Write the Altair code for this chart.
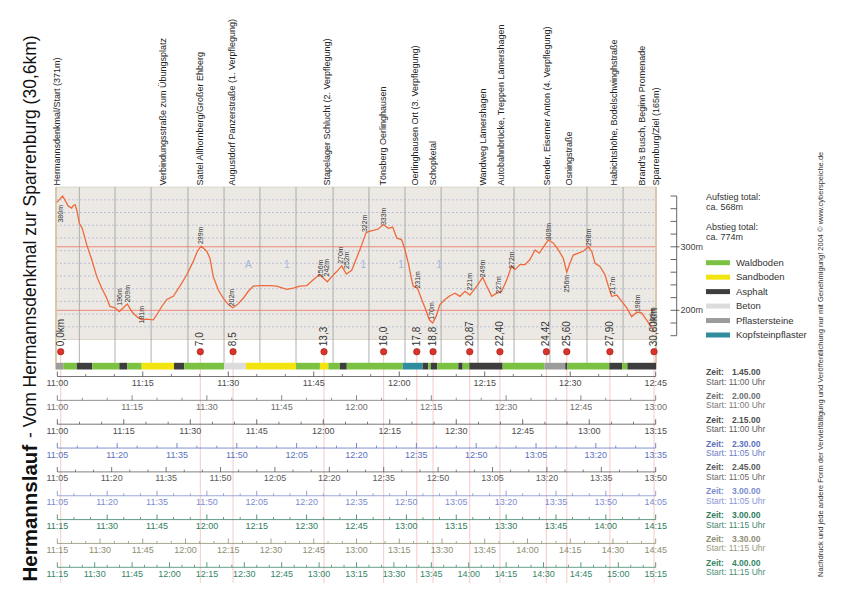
import altair as alt
import pandas as pd

# ---------------- data ----------------
WAYPOINTS = [
    "Hermannsdenkmal/Start (371m)", "Verbindungsstraße zum Übungsplatz",
    "Sattel Allhornberg/Großer Ehberg", "Augustdorf Panzerstraße (1. Verpflegung)",
    "Stapelager Schlucht (2. Verpflegung)", "Tönsberg Oerlinghausen",
    "Oerlinghausen Ort (3. Verpflegung)", "Schopketal", "Wandweg Lämershagen",
    "Autobahnbrücke, Treppen  Lämershagen", "Sender, Eiserner Anton (4. Verpflegung)",
    "Osningstraße", "Habichtshöhe, Bodelschwinghstraße",
    "Brand's Busch, Beginn Promenade", "Sparrenburg/Ziel (165m)",
]
WAYPOINT_KM = [0.04, 5.47, 7.34, 8.96, 13.84, 16.69, 18.31, 19.24, 21.79, 22.68,
               25.06, 26.18, 28.46, 29.87, 30.60]

PROFILE_KM = [0.04, 0.34, 0.63, 0.80, 0.88, 0.98, 1.06, 1.19, 1.34, 1.57, 1.82, 2.08, 2.33,
              2.59, 2.75, 3.01, 3.23, 3.43, 3.64, 3.86, 4.12, 4.37, 4.63, 4.96, 5.14, 5.39,
              5.65, 5.98, 6.32, 6.67, 7.00, 7.21, 7.40, 7.69, 7.85, 8.02, 8.28, 8.53, 8.79,
              9.01, 9.25, 9.55, 9.81, 10.06, 10.40, 10.91, 11.26, 11.77, 12.10, 12.44, 12.79,
              13.12, 13.43, 13.63, 13.84, 14.06, 14.32, 14.57, 14.81, 15.08, 15.34, 15.59,
              15.81, 15.93, 16.18, 16.44, 16.69, 16.95, 17.17, 17.38, 17.63, 17.80, 17.97,
              18.14, 18.22, 18.43, 18.65, 18.82, 19.04, 19.21, 19.38, 19.58, 19.84, 20.09,
              20.35, 20.60, 20.86, 21.11, 21.46, 21.76, 21.97, 22.22, 22.48, 22.73, 22.99,
              23.24, 23.41, 23.66, 23.92, 24.17, 24.43, 24.65, 24.89, 25.11, 25.36, 25.62,
              25.87, 26.05, 26.21, 26.38, 26.64, 26.89, 27.15, 27.32, 27.49, 27.74, 28.00,
              28.17, 28.34, 28.60, 28.85, 29.11, 29.36, 29.62, 29.87, 30.04, 30.29, 30.50]
PROFILE_ELEV = [370, 380, 364, 361, 365, 366, 358, 337, 329, 303, 280, 253, 235,
                219, 206, 204, 198, 204, 210, 198, 190, 185, 186, 185, 193, 206,
                217, 222, 238, 256, 277, 293, 301, 293, 282, 253, 232, 219, 209,
                204, 209, 219, 230, 238, 239, 239, 238, 233, 235, 238, 239,
                248, 256, 251, 245, 253, 261, 270, 257, 263, 283, 303,
                322, 324, 326, 328, 335, 329, 331, 314, 311, 295, 274,
                248, 238, 235, 217, 204, 185, 180, 190, 209, 217, 223,
                227, 222, 230, 224, 238, 252, 238, 222, 227, 230, 248,
                270, 264, 272, 272, 280, 295, 290, 301, 311, 306, 295,
                282, 260, 274, 287, 290, 293, 300, 293, 274, 269, 256,
                238, 222, 224, 214, 204, 190, 197, 196, 188, 177, 167]

ELEV_LABELS = ["380m", "196m", "209m", "181m", "299m", "202m", "256m", "242m", "270m",
               "252m", "322m", "333m", "231m", "170m", "221m", "249m", "227m", "272m",
               "309m", "256m", "298m", "217m", "198m", "165m"]
ELEV_LABEL_KM = [0.28, 3.24, 3.65, 4.41, 7.38, 9.00, 13.49, 13.82, 14.51, 14.82, 15.77,
                 16.71, 18.44, 19.20, 21.11, 21.76, 22.58, 23.24, 25.13, 26.05, 27.20,
                 28.39, 29.67, 30.46]
ELEV_LABEL_AT = [352, 221, 226, 193, 318, 220, 266, 267, 287, 279, 337, 348, 248, 199,
                 245, 266, 240, 279, 324, 242, 315, 239, 211, 191]

KM_LABELS = ["0,0km", "7,0", "8,5", "13,3", "16,0", "17,8", "18,8", "20,87", "22,40",
             "24,42", "25,60", "27,90", "30,60km"]
KM_POS = [0.24, 7.36, 9.03, 13.67, 16.71, 18.40, 19.23, 21.10, 22.64, 25.01, 26.05,
          28.25, 30.50]

GRID_KM = [1.19, 3.01, 4.85, 6.73, 8.57, 10.40, 12.24, 14.13, 15.96, 17.80, 19.64,
           21.52, 23.36, 25.19, 27.08, 28.92]

ROAD_TEXT = ["A", "1", "1", "1", "1"]
ROAD_KM = [9.81, 11.77, 15.67, 17.60, 19.53]
ROAD_AT = 271

SURFACES = ["Waldboden", "Sandboden", "Asphalt", "Beton", "Pflastersteine",
            "Kopfsteinpflaster"]
SURF_FROM = [0.00, 0.37, 1.06, 1.85, 3.23, 3.64, 4.37, 6.02, 6.54, 8.57, 9.69, 12.24,
             13.46, 13.89, 14.48, 14.83, 17.68, 18.70, 18.99, 19.11, 19.45, 20.52,
             20.74, 21.08, 22.78, 24.92, 25.97, 26.08, 28.22, 28.87, 29.14]
SURF_TO = SURF_FROM[1:] + [30.60]
SURF_KIND = ["Pflastersteine", "Waldboden", "Asphalt", "Waldboden", "Asphalt",
             "Waldboden", "Sandboden", "Asphalt", "Waldboden", "Beton", "Sandboden",
             "Waldboden", "Sandboden", "Waldboden", "Asphalt", "Waldboden",
             "Kopfsteinpflaster", "Asphalt", "Waldboden", "Asphalt", "Waldboden",
             "Asphalt", "Waldboden", "Asphalt", "Waldboden", "Pflastersteine",
             "Asphalt", "Waldboden", "Asphalt", "Waldboden", "Asphalt"]

STATS = ["Aufstieg total:", "ca. 568m", "Abstieg total:", "ca. 774m"]
STATS_LINE = [0, 1, 3, 4]

TIME_START = ["11:00", "11:00", "11:00", "11:05", "11:05", "11:05", "11:15", "11:15", "11:15"]
TIME_END = ["12:45", "13:00", "13:15", "13:35", "13:50", "14:05", "14:15", "14:45", "15:15"]
RACE_TIME = ["1.45.00", "2.00.00", "2.15.00", "2.30.00", "2.45.00", "3.00.00",
             "3.00.00", "3.30.00", "4.00.00"]

ELEV_TICKS = list(range(160, 381, 20))
ELEV_TICK_LABELS = {300: "300m", 200: "200m"}

TITLE_BOLD = "Hermannslauf"
TITLE_REST = "- Vom Hermannsdenkmal zur Sparrenburg (30,6km)"
COPYRIGHT = ("Nachdruck und jede andere Form der Vervielfältigung und Veröffentlichung "
             "nur mit Genehmigung! 2004 © www.cyberspeiche.de")

# ---------------- styles / layout ----------------
FONT = "Liberation Sans"
W, H = 826, 575
SURF_COLORS = ["#7cc242", "#f1e40f", "#3d3d3d", "#dcdcdc", "#9c9c9c", "#2f8d9d"]
ROW_IDS = [f"r{i}" for i in range(len(TIME_START))]
ROW_COLORS = ["#4d4d4d", "#6e6e6e", "#4d4d4d", "#5b70bd", "#5a5a5a", "#7b8cd0",
              "#2f7b5b", "#8d8d72", "#358565"]


def PX(x):
    return x - 8


def PY(y):
    return y - 8


PX_PER_M = 0.635
Y300 = 246.8


def page_y(e):
    return Y300 - (e - 300) * PX_PER_M


def elev_at(py):
    return 300 - (py - Y300) / PX_PER_M


GREY_LO, GREY_HI = 154, 394
MARK_Y = elev_at(351.7)
BAR_TOP, BAR_BOT = elev_at(362.8), elev_at(369.5)
PINK_BOT = elev_at(583)

XKM = alt.Scale(domain=[0, 30.6], range=[PX(56), PX(656)], nice=False, zero=False)
YEL = alt.Scale(domain=[160, 380], range=[PY(page_y(160)), PY(page_y(380))], nice=False, zero=False)
XT = alt.Scale(domain=[0, 1], range=[PX(57.3), PX(655.7)], nice=False, zero=False)
YROW = alt.Scale(domain=[0, 8], range=[PY(376.5), PY(567.3)], nice=False, zero=False)
YLEG = alt.Scale(domain=[0, 5], range=[PY(262.7), PY(335)], nice=False, zero=False)
YSTAT = alt.Scale(domain=[0, 4], range=[PY(196.7), PY(236.7)], nice=False, zero=False)
SURF_SCALE = alt.Scale(domain=SURFACES, range=SURF_COLORS)
ROW_SCALE = alt.Scale(domain=ROW_IDS, range=ROW_COLORS)


def xk(f):
    return alt.X(f, type="quantitative", scale=XKM, axis=None)


def ye(f):
    return alt.Y(f, type="quantitative", scale=YEL, axis=None)


def xkd(v):
    return alt.XDatum(v, type="quantitative", scale=XKM, axis=None)


def yed(v):
    return alt.YDatum(v, type="quantitative", scale=YEL, axis=None)


one = pd.DataFrame({"k": [0]})

# ---------------- tables ----------------
profile = pd.DataFrame({"km": PROFILE_KM, "elev": PROFILE_ELEV})
elev_lab = pd.DataFrame({"km": ELEV_LABEL_KM, "elev": ELEV_LABEL_AT, "t": ELEV_LABELS})
wp = pd.DataFrame({"km": WAYPOINT_KM, "t": WAYPOINTS})
kmm = pd.DataFrame({"km": KM_POS, "t": KM_LABELS})
grid_v = pd.DataFrame({"km": GRID_KM})
grid_h = pd.DataFrame({"elev": list(range(GREY_LO + 20, GREY_HI, 20))})
red_h = pd.DataFrame({"elev": [200, 300]})
frame = pd.DataFrame({"km": [0, 30.6]})
road = pd.DataFrame({"km": ROAD_KM, "t": ROAD_TEXT})
surf = pd.DataFrame({"a": SURF_FROM, "b": SURF_TO, "kind": SURF_KIND})
leg = pd.DataFrame({"kind": SURFACES, "i": list(range(len(SURFACES)))})
stats = pd.DataFrame({"t": STATS, "i": STATS_LINE})
ax_ticks = pd.DataFrame({"elev": ELEV_TICKS,
                         "major": [e in ELEV_TICK_LABELS for e in ELEV_TICKS]})
ax_labels = pd.DataFrame({"elev": list(ELEV_TICK_LABELS.keys()),
                          "t": list(ELEV_TICK_LABELS.values())})


def to_min(s):
    h, m = s.split(":")
    return int(h) * 60 + int(m)


tick_rows = []
for i, (s, e) in enumerate(zip(TIME_START, TIME_END)):
    sm, em = to_min(s), to_min(e)
    for t in range(sm, em + 1, 5):
        tick_rows.append({"row": ROW_IDS[i], "ri": i, "frac": (t - sm) / (em - sm),
                          "major": (t - sm) % 15 == 0, "t": f"{t // 60}:{t % 60:02d}"})
ticks = pd.DataFrame(tick_rows)
rows = pd.DataFrame({"row": ROW_IDS, "ri": list(range(len(ROW_IDS))),
                     "zeit": RACE_TIME,
                     "start": [f"Start: {s} Uhr" for s in TIME_START]})

yrow = alt.Y("ri:Q", scale=YROW, axis=None)
crow = alt.Color("row:N", scale=ROW_SCALE, legend=None)
xt = alt.X("frac:Q", scale=XT, axis=None)

# ---------------- layers ----------------
layers = []

layers.append(alt.Chart(one).mark_rect(fill="#ecE9e4", stroke="#d8d0c0", strokeWidth=0.8).encode(
    x=xkd(0), x2=alt.X2Datum(30.6), y=yed(GREY_LO), y2=alt.Y2Datum(GREY_HI)))

layers.append(alt.Chart(grid_h).mark_rule(color="#a6aed0", strokeDash=[2, 2], strokeWidth=0.7).encode(
    y=ye("elev"), x=xkd(0), x2=alt.X2Datum(30.6)))

layers.append(alt.Chart(red_h).mark_rule(color="#ef7b66", strokeWidth=0.9).encode(
    y=ye("elev"), x=xkd(0), x2=alt.X2Datum(30.6)))

layers.append(alt.Chart(grid_v).mark_rule(color="#9c9c9c", strokeWidth=0.8).encode(
    x=xk("km"), y=yed(GREY_HI), y2=alt.Y2Datum(BAR_TOP)))

layers.append(alt.Chart(frame).mark_rule(color="#d6c6a2", strokeWidth=1.8).encode(
    x=xk("km"), y=yed(GREY_HI), y2=alt.Y2Datum(BAR_BOT)))

layers.append(alt.Chart(road).mark_text(font=FONT, fontSize=10, color="#a5b6de").encode(
    x=xk("km"), y=yed(ROAD_AT), text="t:N"))

layers.append(alt.Chart(profile).mark_line(color="#ee6a3c", strokeWidth=1.3).encode(
    x=xk("km"), y=ye("elev")))

layers.append(alt.Chart(elev_lab).mark_text(font=FONT, fontSize=7, angle=270, color="#333333",
                                             baseline="middle", align="center").encode(
    x=xk("km"), y=ye("elev"), text="t:N"))

layers.append(alt.Chart(wp).mark_text(font=FONT, fontSize=9, angle=270, color="#222222",
                                       baseline="middle", align="left", dx=1.5).encode(
    x=xk("km"), y=yed(GREY_HI), text="t:N"))

layers.append(alt.Chart(kmm).mark_rule(color="#f3a5a5", strokeWidth=0.6).encode(
    x=xk("km"), y=yed(MARK_Y), y2=alt.Y2Datum(PINK_BOT)))

layers.append(alt.Chart(surf).mark_rect().encode(
    x=xk("a"), x2="b:Q", y=yed(BAR_TOP), y2=alt.Y2Datum(BAR_BOT),
    color=alt.Color("kind:N", scale=SURF_SCALE, legend=None)))

layers.append(alt.Chart(kmm).mark_circle(size=42, color="#d8342b", opacity=1,
                                          stroke="#9e1f1a", strokeWidth=0.6).encode(
    x=xk("km"), y=yed(MARK_Y)))

layers.append(alt.Chart(kmm).mark_text(font=FONT, fontSize=10, angle=270, color="#333333",
                                        baseline="middle", align="left", dx=5.5).encode(
    x=xk("km"), y=yed(MARK_Y), text="t:N"))

# right elevation axis
layers.append(alt.Chart(one).mark_rule(color="#555555", strokeWidth=0.9).encode(
    x=alt.value(PX(676.7)), y=yed(160), y2=alt.Y2Datum(380)))
layers.append(alt.Chart(ax_ticks[~ax_ticks.major]).mark_rule(color="#555555", strokeWidth=0.9).encode(
    x=alt.value(PX(670.5)), x2=alt.value(PX(676.7)), y=ye("elev")))
layers.append(alt.Chart(ax_ticks[ax_ticks.major]).mark_rule(color="#555555", strokeWidth=0.9).encode(
    x=alt.value(PX(670.5)), x2=alt.value(PX(679.5)), y=ye("elev")))
layers.append(alt.Chart(ax_labels).mark_text(font=FONT, fontSize=9, color="#444444",
                                              align="left", baseline="middle").encode(
    x=alt.value(PX(680.5)), y=ye("elev"), text="t:N"))

# stats and surface legend
layers.append(alt.Chart(stats).mark_text(font=FONT, fontSize=9, color="#333333",
                                          align="left", baseline="middle").encode(
    x=alt.value(PX(706)), y=alt.Y("i:Q", scale=YSTAT, axis=None), text="t:N"))
layers.append(alt.Chart(leg).mark_rule(strokeWidth=5, strokeCap="butt").encode(
    x=alt.value(PX(706)), x2=alt.value(PX(730)), y=alt.Y("i:Q", scale=YLEG, axis=None),
    color=alt.Color("kind:N", scale=SURF_SCALE, legend=None)))
layers.append(alt.Chart(leg).mark_text(font=FONT, fontSize=9.5, color="#333333",
                                        align="left", baseline="middle").encode(
    x=alt.value(PX(736)), y=alt.Y("i:Q", scale=YLEG, axis=None), text="kind:N"))

# time axes
layers.append(alt.Chart(rows).mark_rule(strokeWidth=0.9, opacity=0.85).encode(
    x=alt.XDatum(0, type="quantitative", scale=XT, axis=None), x2=alt.X2Datum(1),
    y=yrow, color=crow))
layers.append(alt.Chart(ticks[ticks.major]).mark_tick(orient="vertical", size=5, thickness=0.9,
                                                      yOffset=-2.5, opacity=0.9).encode(
    x=xt, y=yrow, color=crow))
layers.append(alt.Chart(ticks[~ticks.major]).mark_tick(orient="vertical", size=2.5, thickness=0.8,
                                                       yOffset=-1.25, opacity=0.9).encode(
    x=xt, y=yrow, color=crow))
layers.append(alt.Chart(ticks[ticks.major]).mark_text(font=FONT, fontSize=9, dy=6.5,
                                                      baseline="middle").encode(
    x=xt, y=yrow, text="t:N", color=crow))

# race-time legend
layers.append(alt.Chart(rows).mark_text(font=FONT, fontSize=8.5, fontWeight="bold", dy=-4.5,
                                         align="left", baseline="middle").encode(
    x=alt.value(PX(706)), y=yrow, text=alt.value("Zeit:"), color=crow))
layers.append(alt.Chart(rows).mark_text(font=FONT, fontSize=8.5, fontWeight="bold", dy=-4.5,
                                         align="left", baseline="middle").encode(
    x=alt.value(PX(732)), y=yrow, text="zeit:N", color=crow))
layers.append(alt.Chart(rows).mark_text(font=FONT, fontSize=8.5, dy=5, opacity=0.9,
                                         align="left", baseline="middle").encode(
    x=alt.value(PX(706)), y=yrow, text="start:N", color=crow))

# title and copyright
layers.append(alt.Chart(one).mark_text(font=FONT, fontSize=20.5, fontWeight="bold", angle=270,
                                        color="#111111", align="left", baseline="middle").encode(
    x=alt.value(PX(31)), y=alt.value(PY(581.5)), text=alt.value(TITLE_BOLD)))
layers.append(alt.Chart(one).mark_text(font=FONT, fontSize=17.5, angle=270,
                                        color="#111111", align="left", baseline="middle").encode(
    x=alt.value(PX(31)), y=alt.value(PY(438)), text=alt.value(TITLE_REST)))
layers.append(alt.Chart(one).mark_text(font=FONT, fontSize=7.5, angle=270,
                                        color="#333333", align="left", baseline="middle").encode(
    x=alt.value(PX(820.5)), y=alt.value(PY(577)), text=alt.value(COPYRIGHT)))

chart = alt.layer(*layers).resolve_scale(
    x="independent", y="independent", color="independent"
).properties(
    width=W, height=H, padding=0, autosize=alt.AutoSizeParams(type="none")
).configure_view(stroke=None)

chart.save("out.html", embed_options={"renderer": "svg", "actions": False})
